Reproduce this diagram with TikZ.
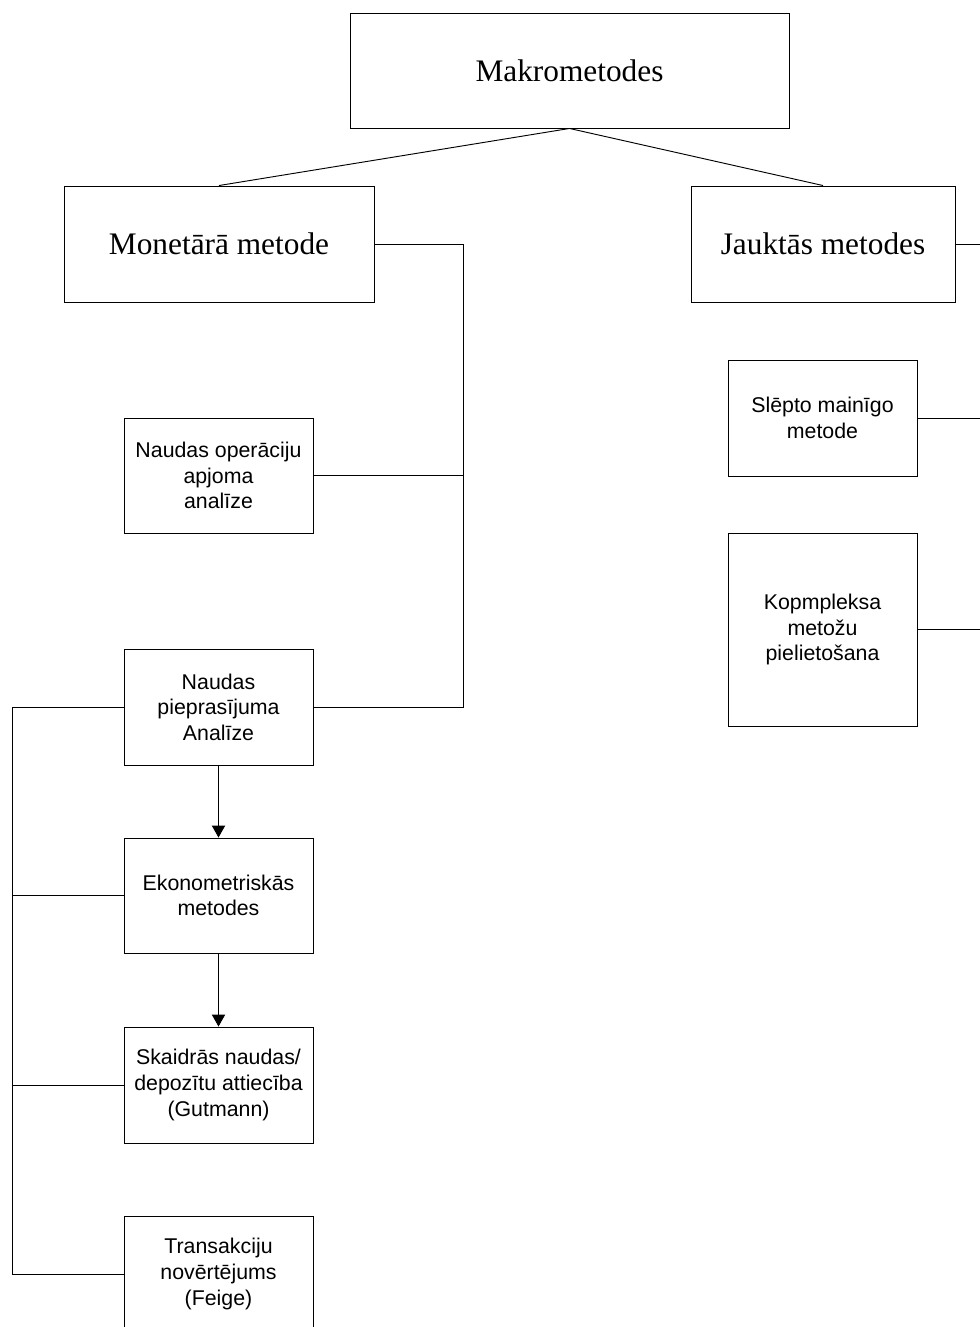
\documentclass[tikz,border=0pt]{standalone}
\usepackage{fontspec}
\setmainfont{Liberation Sans}
\newfontfamily\tnr{Liberation Serif}
\usetikzlibrary{arrows.meta}
\tikzset{
  box/.style={draw, line width=0.7pt, inner sep=0pt, align=center, minimum width=141.75pt, minimum height=87pt, font=\fontsize{16pt}{19.2pt}\selectfont},
  bigbox/.style={box, font=\tnr\fontsize{23.5pt}{27pt}\selectfont},
  link/.style={line width=0.7pt},
  arr/.style={link, -{Triangle[width=10pt,length=9pt]}}
}
\begin{document}
\begin{tikzpicture}[x=0.75pt, y=-0.75pt]
\useasboundingbox (0,0) rectangle (979,1327);
\node[bigbox, minimum width=329.25pt, minimum height=86.25pt] (makro) at (569.5,70.5) {Makrometodes};
\node[bigbox, minimum width=232.5pt] (monet) at (219,244) {Monet\=ar\=a metode};
\node[bigbox, minimum width=198pt] (jaukt) at (823,244) {Jaukt\=as metodes};
\node[box, minimum height=86.25pt] (operac) at (218.5,475.5) {Naudas oper\=aciju\\apjoma\\anal\=ize};
\node[box] (pieprs) at (218.5,707) {Naudas\\pieprasījuma\\Analīze};
\node[box, minimum height=86.25pt] (ekonom) at (218.5,895.5) {Ekonometriskās\\metodes};
\node[box] (skaidr) at (218.5,1085) {Skaidrās naudas/\\depozītu attiecība\\(Gutmann)};
\node[box] (transk) at (218.5,1274) {Transakciju\\novērtējums\\(Feige)};
\node[box] (slepto) at (822.5,418) {Slēpto mainīgo\\metode};
\node[box, minimum height=144.75pt] (kompl) at (822.5,629.5) {Kopmpleksa\\metožu\\pielietošana};
\coordinate (mbus) at (463,707);
\coordinate (lbus) at (12,1274);
\coordinate (rbus) at (990,244);
\draw[link] (makro.south) -- (monet.north);
\draw[link] (makro.south) -- (jaukt.north);
\draw[link] (monet.east) -| (mbus) -- (pieprs.east);
\draw[link] (operac.east) -- (operac.east -| mbus);
\draw[link] (pieprs.west) -| (lbus) -- (transk.west);
\draw[link] (ekonom.west) -- (ekonom.west -| lbus);
\draw[link] (skaidr.west) -- (skaidr.west -| lbus);
\draw[arr] (pieprs.south) -- (ekonom.north);
\draw[arr] (ekonom.south) -- (skaidr.north);
\draw[link] (jaukt.east) -- (jaukt.east -| rbus);
\draw[link] (slepto.east) -- (slepto.east -| rbus);
\draw[link] (kompl.east) -- (kompl.east -| rbus);
\end{tikzpicture}
\end{document}
